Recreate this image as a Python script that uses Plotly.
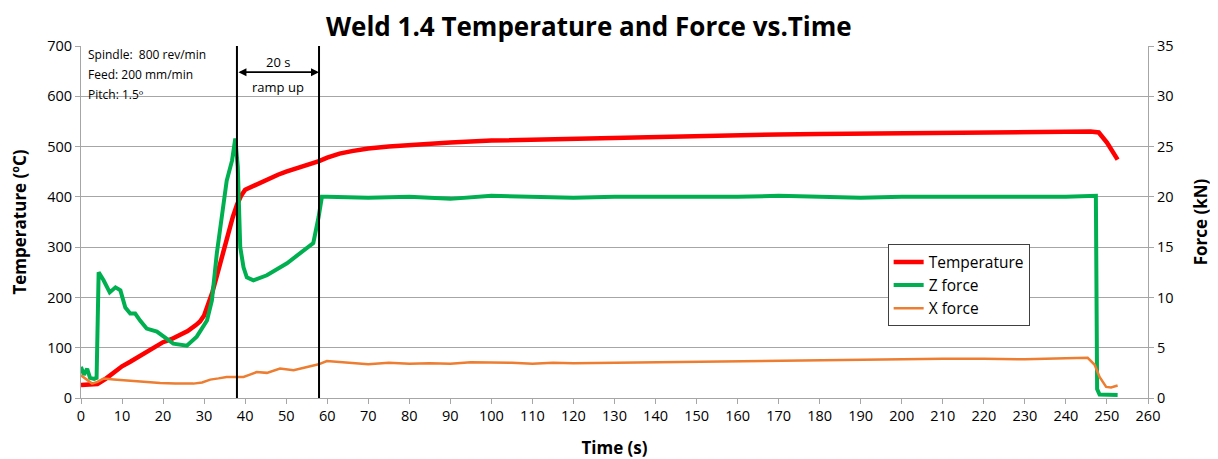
import plotly.graph_objects as go

# ---------------- data ----------------
temp_t = [0, 2, 4, 6, 8, 10, 12, 14, 16, 18, 20, 22, 24, 26, 28, 29, 30, 31, 32, 33, 34, 35, 36, 37, 38,
          39, 40, 42, 44, 46, 48, 50, 52, 54, 56, 58, 60, 63, 66, 70, 75, 80, 90, 100, 110, 120, 130,
          140, 150, 160, 170, 180, 190, 200, 210, 220, 230, 240, 246, 248, 250, 252.6]
temp_c = [26, 26, 28, 38, 50, 63, 72, 82, 92, 101, 111, 117, 126, 133, 145, 152, 164, 185, 210, 240, 270,
          305, 335, 360, 384, 402, 414, 422, 428, 436, 444, 450, 455, 461, 466, 471, 478, 486, 491, 496,
          500, 503, 508, 512, 514, 516, 518, 520, 521, 523, 524, 525, 526, 527, 528, 529, 529, 530, 530,
          528, 508, 474]

z_t = [0, 0.7, 1.5, 2.2, 3.2, 3.8, 4.3, 5.5, 7.0, 8.4, 9.6, 10.8, 12.0, 13.2, 14.4, 16.0, 18.5, 20.1,
       22.5, 25.8, 28.2, 30.7, 31.9, 33.1, 34.3, 35.5, 36.8, 37.6, 38.2, 38.5, 38.8, 39.6, 40.4, 42.0,
       45.3, 50.2, 55.0, 56.6, 57.9, 58.7, 60, 70, 80, 90, 100, 110, 120, 130, 140, 150, 160, 170, 180,
       190, 200, 210, 220, 230, 240, 247.3, 247.6, 248.2, 250, 252.6]
z_kn = [3.1, 2.3, 2.9, 2.0, 1.9, 2.0, 12.5, 11.7, 10.5, 11.0, 10.7, 9.0, 8.4, 8.4, 7.7, 6.9, 6.6, 6.1,
        5.4, 5.2, 6.1, 7.7, 9.7, 14.4, 18.4, 21.6, 23.6, 25.8, 23.0, 19.0, 15.0, 13.0, 12.0, 11.7,
        12.2, 13.4, 14.9, 15.4, 18.0, 20.0, 20.0, 19.9, 20.0, 19.8, 20.1, 20.0, 19.9, 20.0, 20.0, 19.9,
        20.0, 20.1, 20.0, 19.9, 20.0, 20.0, 19.9, 20.0, 20.0, 20.1, 0.9, 0.35, 0.3, 0.3]

x_t = [0, 1.5, 2.7, 4, 5.5, 8, 11.2, 15, 19.3, 23, 27.4, 29.5, 31.5, 33.5, 35.5, 37.5, 39.6, 41, 42.8,
       45.3, 48.5, 51.8, 55, 57.9, 59.9, 62.3, 65, 70, 75, 80, 85, 90, 95, 100, 105, 110, 115, 120, 130,
       140, 150, 160, 170, 180, 190, 200, 210, 220, 230, 240, 245.3, 247, 248.2, 249.8, 251, 252.6]
x_kn = [2.25, 1.8, 1.43, 1.6, 1.93, 1.85, 1.76, 1.6, 1.49, 1.45, 1.43, 1.55, 1.83, 1.95, 2.09, 2.1, 2.09,
        2.3, 2.58, 2.5, 2.92, 2.75, 3.08, 3.35, 3.68, 3.6, 3.45, 3.35, 3.5, 3.4, 3.45, 3.4, 3.55, 3.55,
        3.5, 3.4, 3.5, 3.45, 3.5, 3.6, 3.6, 3.65, 3.7, 3.75, 3.85, 3.9, 3.9, 3.9, 3.85, 3.95, 4.0, 3.3,
        2.1, 1.1, 1.05, 1.25]

ramp_start = 38
ramp_end = 58
info_lines = ["Spindle:  800 rev/min", "Feed: 200 mm/min", "Pitch: 1.5º"]

FONT = "Open Sans"

fig = go.Figure()
fig.add_trace(go.Scatter(x=temp_t, y=temp_c, name="Temperature", mode="lines",
                         line=dict(color="#ff0000", width=4.5)))
fig.add_trace(go.Scatter(x=z_t, y=z_kn, name="Z force", mode="lines", yaxis="y2",
                         line=dict(color="#00b050", width=4)))
fig.add_trace(go.Scatter(x=x_t, y=x_kn, name="X force", mode="lines", yaxis="y2",
                         line=dict(color="#ed7d31", width=2.5)))

# vertical ramp lines
for xv in (ramp_start, ramp_end):
    fig.add_shape(type="line", xref="x", yref="paper", x0=xv, x1=xv, y0=0, y1=1,
                  line=dict(color="black", width=2))

# double-headed arrow
fig.add_annotation(x=ramp_end, y=648, ax=ramp_start, ay=648, xref="x", yref="y",
                   axref="x", ayref="y", showarrow=True, arrowside="end+start",
                   arrowhead=2, arrowsize=1, arrowwidth=1.6, arrowcolor="black", text="")
fig.add_annotation(x=(ramp_start + ramp_end) / 2, y=668, xref="x", yref="y", text="20 s",
                   showarrow=False, font=dict(size=13, color="black", family=FONT))
fig.add_annotation(x=(ramp_start + ramp_end) / 2, y=619, xref="x", yref="y", text="ramp up",
                   showarrow=False, font=dict(size=13, color="black", family=FONT))

for i, txt in enumerate(info_lines):
    fig.add_annotation(x=0.005, y=684 - i * 40, xref="paper", yref="y", text=txt,
                       xanchor="left", showarrow=False,
                       font=dict(size=12, color="black", family=FONT))

grid = "#a6a6a6"
fig.update_layout(
    width=1210, height=451,
    margin=dict(l=73, r=70, t=38, b=61, autoexpand=False),
    paper_bgcolor="white", plot_bgcolor="white",
    font=dict(family=FONT, color="black"),
    title=dict(text="<b>Weld 1.4 Temperature and Force vs.Time</b>", x=0.48, xanchor="center",
               y=0.958, yanchor="middle", font=dict(size=26, family=FONT, color="black")),
    xaxis=dict(range=[0, 260], dtick=10, tick0=0, showgrid=False, showline=True, linecolor=grid,
               linewidth=1, ticks="outside", ticklen=5, tickcolor=grid, automargin=False,
               tickfont=dict(size=14.5, family=FONT), zeroline=False,
               title=dict(text="<b>Time (s)</b>", font=dict(size=17, family=FONT), standoff=20)),
    yaxis=dict(range=[0, 700], dtick=100, showgrid=True, gridcolor=grid, gridwidth=1,
               showline=True, linecolor=grid, ticks="outside", ticklen=5, tickcolor=grid,
               tickfont=dict(size=14.5, family=FONT), zeroline=False, automargin=False,
               title=dict(text="<b>Temperature (ºC)</b>", font=dict(size=17, family=FONT), standoff=18)),
    yaxis2=dict(range=[0, 35], dtick=5, overlaying="y", side="right", showgrid=False,
                showline=True, linecolor=grid, ticks="outside", ticklen=5, tickcolor=grid,
                tickfont=dict(size=14.5, family=FONT), zeroline=False, automargin=False,
                title=dict(text="<b>Force (kN)</b>", font=dict(size=17, family=FONT), standoff=22)),
    legend=dict(x=0.756, y=0.4365, xanchor="left", yanchor="top", bgcolor="white",
                bordercolor="#404040", borderwidth=1, font=dict(size=15.5, family=FONT),
                itemwidth=30, tracegroupgap=0),
    showlegend=True,
)

fig.write_html("out.html")
